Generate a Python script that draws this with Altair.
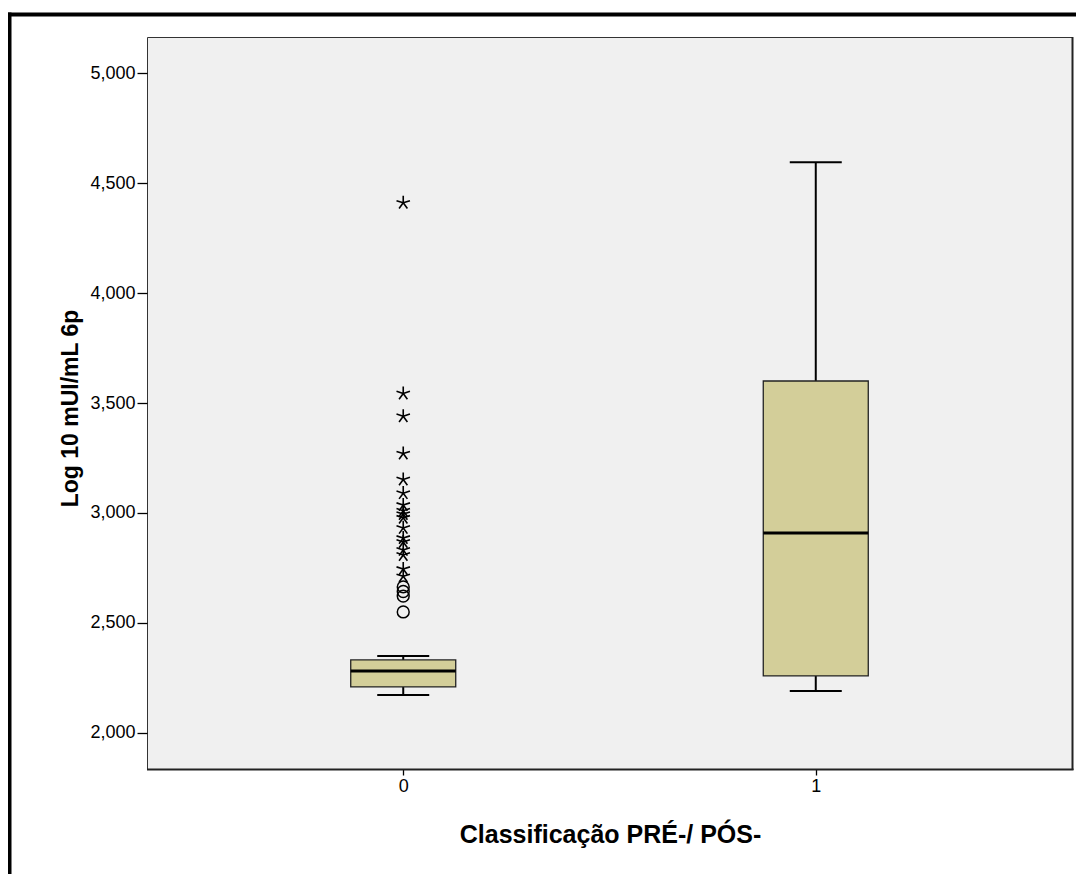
import altair as alt
import pandas as pd

# Group categories
categories = [0, 1]
# Box statistics (log10 values)
lower_whisker = [2.173, 2.191]
q1 = [2.209, 2.259]
median = [2.282, 2.909]
q3 = [2.332, 3.600]
upper_whisker = [2.350, 4.595]

# Outliers for group 0
extreme_values = [4.410, 3.543, 3.440, 3.270, 3.152, 3.090, 3.036, 3.010, 2.995,
                  2.978, 2.932, 2.886, 2.868, 2.832, 2.809, 2.745, 2.712]
outlier_values = [2.664, 2.643, 2.622, 2.550]
outlier_group = 0

y_ticks = [2.0, 2.5, 3.0, 3.5, 4.0, 4.5, 5.0]

box_df = pd.DataFrame({
    "cat": categories, "lw": lower_whisker, "q1": q1, "med": median,
    "q3": q3, "uw": upper_whisker,
})
ext_df = pd.DataFrame({"cat": [outlier_group] * len(extreme_values), "v": extreme_values})
out_df = pd.DataFrame({"cat": [outlier_group] * len(outlier_values), "v": outlier_values})

FONT = "Liberation Sans"
BOX_FILL = "#D3CE99"

xscale = alt.Scale(domain=[-0.609, 1.609], nice=False, zero=False)
yscale = alt.Scale(domain=[1.836, 5.164], nice=False, zero=False)

x_axis = alt.Axis(
    values=categories, format="d", title="Classificação PRÉ-/ PÓS-",
    grid=False, domain=False, tickSize=6, tickColor="black", tickWidth=1.3,
    labelFontSize=18, labelFont=FONT, labelColor="black", labelPadding=2,
    titleFont=FONT, titleFontSize=25, titleFontWeight="bold", titleColor="black",
    titleX=463, titleY=65, titleBaseline="middle", titleAlign="center",
)
y_axis = alt.Axis(
    values=y_ticks, format=".3f", labelExpr="replace(datum.label, '.', ',')",
    title="Log 10 mUI/mL 6p",
    grid=False, domain=False, tickSize=10, tickColor="black", tickWidth=1.3,
    labelFontSize=18, labelFont=FONT, labelColor="black", labelPadding=2,
    titleFont=FONT, titleFontSize=23, titleFontWeight="bold", titleColor="black",
    titleX=-77, titleY=371, titleAngle=-90, titleBaseline="middle", titleAlign="center",
)

base = alt.Chart(box_df)

upper_rule = base.mark_rule(color="black", strokeWidth=2).encode(
    x=alt.X("cat:Q", scale=xscale, axis=x_axis),
    y=alt.Y("q3:Q", scale=yscale, axis=y_axis),
    y2="uw:Q",
)
lower_rule = base.mark_rule(color="black", strokeWidth=2).encode(
    x=alt.X("cat:Q", scale=xscale), y=alt.Y("lw:Q", scale=yscale), y2="q1:Q",
)
cap_top = base.mark_tick(orient="horizontal", size=52, thickness=2, color="black", opacity=1).encode(
    x=alt.X("cat:Q", scale=xscale), y=alt.Y("uw:Q", scale=yscale),
)
cap_bot = base.mark_tick(orient="horizontal", size=52, thickness=2, color="black", opacity=1).encode(
    x=alt.X("cat:Q", scale=xscale), y=alt.Y("lw:Q", scale=yscale),
)
box = base.mark_bar(size=105, fill=BOX_FILL, stroke="#222222", strokeWidth=1.3, opacity=1).encode(
    x=alt.X("cat:Q", scale=xscale), y=alt.Y("q1:Q", scale=yscale), y2="q3:Q",
)
med = base.mark_tick(orient="horizontal", size=105, thickness=3, color="black", opacity=1).encode(
    x=alt.X("cat:Q", scale=xscale), y=alt.Y("med:Q", scale=yscale),
)

star_path = ("M0,-1L0,0M0,0L0.951,-0.309M0,0L0.588,0.809"
             "M0,0L-0.588,0.809M0,0L-0.951,-0.309")
stars = alt.Chart(ext_df).mark_point(
    shape=star_path, filled=False, stroke="black", strokeWidth=1.6, size=200, opacity=1,
).encode(x=alt.X("cat:Q", scale=xscale), y=alt.Y("v:Q", scale=yscale))

circles = alt.Chart(out_df).mark_point(
    shape="circle", filled=False, stroke="black", strokeWidth=1.5, size=140, opacity=1,
).encode(x=alt.X("cat:Q", scale=xscale), y=alt.Y("v:Q", scale=yscale))

frame_df = pd.DataFrame({"k": [0]})
frame_top = alt.Chart(frame_df).mark_rule(color="black", strokeWidth=4).encode(
    x=alt.value(-139), x2=alt.value(937), y=alt.value(-22.5),
)
frame_left = alt.Chart(frame_df).mark_rule(color="black", strokeWidth=4).encode(
    x=alt.value(-137.5), y=alt.value(-24.5), y2=alt.value(900),
)
border_right = alt.Chart(frame_df).mark_rule(color="#222222", strokeWidth=2).encode(
    x=alt.value(925.5), y=alt.value(0), y2=alt.value(733),
)
border_bottom = alt.Chart(frame_df).mark_rule(color="#222222", strokeWidth=2).encode(
    x=alt.value(0), x2=alt.value(926.5), y=alt.value(732.5),
)

chart = alt.layer(
    upper_rule, lower_rule, cap_top, cap_bot, box, med, stars, circles,
    frame_top, frame_left, border_right, border_bottom,
).properties(
    width=925, height=732,
    autosize=alt.AutoSizeParams(type="none"),
    padding={"left": 139, "top": 29, "right": 4, "bottom": 105},
    background="white",
).configure_view(
    fill="#F0F0F0", stroke="#333333", strokeWidth=1,
)

chart.save("out.html", embed_options={"renderer": "svg", "actions": False})
